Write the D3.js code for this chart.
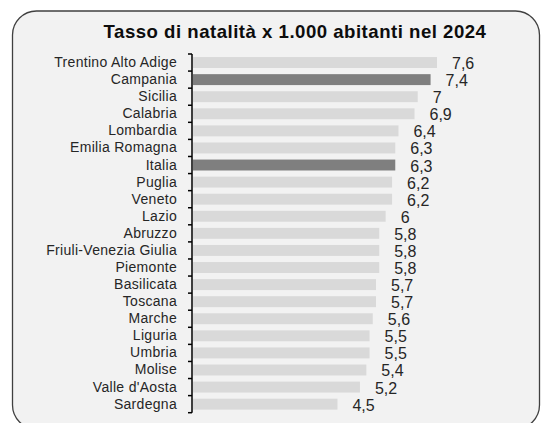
<!doctype html>
<html>
  <head>
    <meta charset="utf-8">
    <script src="https://cdnjs.cloudflare.com/ajax/libs/d3/7.8.5/d3.min.js"></script>
    <style>
      body { margin: 0; background: #fff; }
      text { font-family: "Liberation Sans", Arial, sans-serif; }
    </style>
  </head>
  <body>
    <svg id="chart" width="541" height="423"></svg>
    <script>
      // dati: tasso di natalità per 1.000 abitanti, 2024
      var regions = ["Trentino Alto Adige", "Campania", "Sicilia", "Calabria", "Lombardia",
        "Emilia Romagna", "Italia", "Puglia", "Veneto", "Lazio", "Abruzzo",
        "Friuli-Venezia Giulia", "Piemonte", "Basilicata", "Toscana", "Marche",
        "Liguria", "Umbria", "Molise", "Valle d'Aosta", "Sardegna"];
      var rates = [7.6, 7.4, 7, 6.9, 6.4, 6.3, 6.3, 6.2, 6.2, 6, 5.8, 5.8, 5.8,
        5.7, 5.7, 5.6, 5.5, 5.5, 5.4, 5.2, 4.5];
      var highlighted = ["Campania", "Italia"];
      var title = "Tasso di natalità x 1.000 abitanti nel 2024";

      var data = regions.map((r, i) => ({ name: r, value: rates[i] }));

      var svg = d3.select("#chart");

      // pannello arrotondato
      svg.append("rect")
        .attr("x", 12.5).attr("y", 11)
        .attr("width", 527).attr("height", 418)
        .attr("rx", 24).attr("ry", 24)
        .style("fill", "#f2f2f2")
        .style("stroke", "#404040")
        .style("stroke-width", 1.3);

      svg.append("text")
        .attr("x", 295).attr("y", 38)
        .attr("text-anchor", "middle")
        .style("font-size", "18.6px")
        .style("letter-spacing", "0.5px")
        .style("font-weight", "bold")
        .style("fill", "#0d0d0d")
        .text(title);

      var x = d3.scaleLinear().domain([0, 7.6]).range([193, 437]);
      var y = d3.scaleBand().domain(regions).range([54, 412.7]).padding(0);
      var bh = y.bandwidth() * 0.64;

      var fmt = d3.formatLocale({ decimal: ",", thousands: ".", grouping: [3], currency: ["", "€"] }).format("~g");

      svg.selectAll("rect.bar")
        .data(data)
        .enter()
        .append("rect")
        .attr("class", "bar")
        .attr("x", x(0))
        .attr("y", d => y(d.name) + (y.bandwidth() - bh) / 2)
        .attr("width", d => x(d.value) - x(0))
        .attr("height", bh)
        .style("fill", d => highlighted.includes(d.name) ? "#7f7f7f" : "#d9d9d9");

      svg.selectAll("text.val")
        .data(data)
        .enter()
        .append("text")
        .attr("class", "val")
        .attr("x", d => x(d.value) + 15)
        .attr("y", d => y(d.name) + y.bandwidth() / 2 + 6.5)
        .style("font-size", "16px")
        .style("fill", "#262626")
        .text(d => fmt(d.value));

      // asse verticale con etichette
      var axis = svg.append("g")
        .attr("transform", "translate(192,0)")
        .call(d3.axisLeft(y).tickSize(0).tickPadding(15));
      axis.select(".domain").remove();
      axis.selectAll("text")
        .style("font-size", "14px")
        .style("letter-spacing", "0.3px")
        .style("fill", "#262626")
        .style("font-family", "'Liberation Sans', Arial, sans-serif");

      // trattini ai confini delle categorie
      var bounds = regions.map(r => y(r)).concat([y.range()[1]]);
      axis.selectAll("line.sep")
        .data(bounds)
        .enter()
        .append("line")
        .attr("class", "sep")
        .attr("x1", -4).attr("x2", 0)
        .attr("y1", d => d).attr("y2", d => d)
        .style("stroke", "#000")
        .style("stroke-width", 1.5);
      axis.append("line")
        .attr("x1", 0).attr("x2", 0)
        .attr("y1", y.range()[0]).attr("y2", y.range()[1])
        .style("stroke", "#000")
        .style("stroke-width", 1.5);
    </script>
  </body>
</html>
